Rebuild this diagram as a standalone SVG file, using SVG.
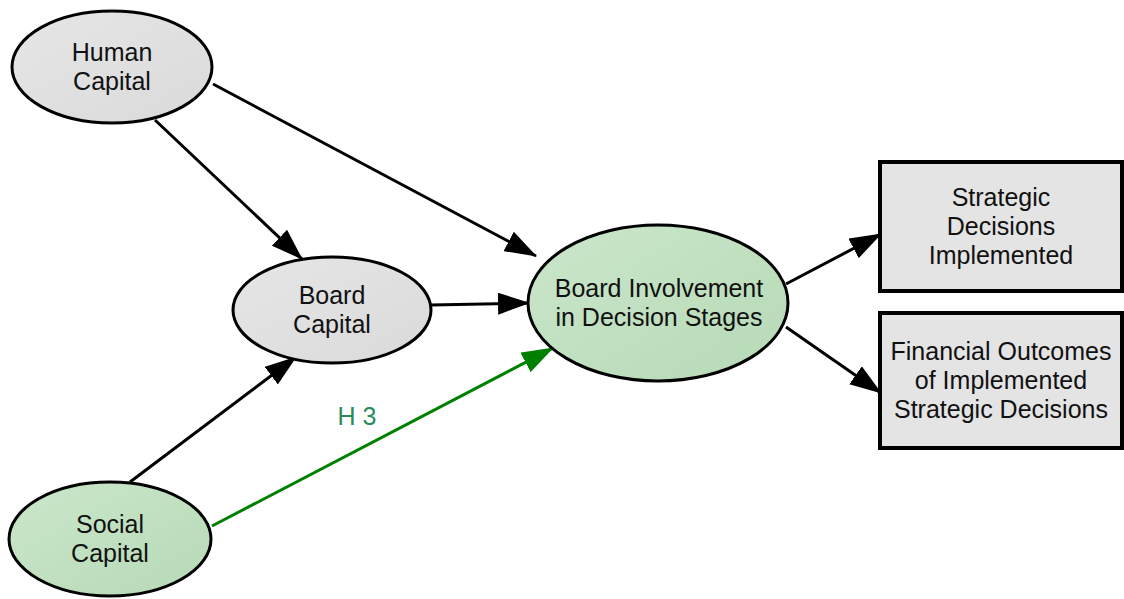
<svg xmlns="http://www.w3.org/2000/svg" width="1124" height="599" viewBox="0 0 1124 599">
<style>
.n{stroke:#000;stroke-width:3}
.gray{fill:url(#gg)}
.green{fill:url(#gn)}
.box{fill:#e4e4e4;stroke:#000;stroke-width:4}
.t{font-family:"Liberation Sans",Arial,sans-serif;font-size:25px;fill:#111;text-anchor:middle}
.e{stroke:#000;stroke-width:3;fill:none}
.eg{stroke:#008000;stroke-width:3;fill:none}
</style>
<defs>
<linearGradient id="gg" x1="0" y1="0" x2="1" y2="1"><stop offset="0" stop-color="#e6e6e6"/><stop offset="1" stop-color="#dadada"/></linearGradient>
<linearGradient id="gn" x1="0" y1="0" x2="1" y2="1"><stop offset="0" stop-color="#cbe6cb"/><stop offset="1" stop-color="#b6dab6"/></linearGradient>
<marker id="ab" viewBox="0 0 32 22" refX="31" refY="11" markerWidth="32" markerHeight="22" markerUnits="userSpaceOnUse" orient="auto"><path d="M0,0 L32,11 L0,22 Z" fill="#000"/></marker>
<marker id="ag" viewBox="0 0 32 22" refX="31" refY="11" markerWidth="32" markerHeight="22" markerUnits="userSpaceOnUse" orient="auto"><path d="M0,0 L32,11 L0,22 Z" fill="#008000"/></marker>
</defs>
<g id="connectors">
<line class="e" x1="213" y1="84" x2="536" y2="256" marker-end="url(#ab)"/>
<line class="e" x1="155" y1="120" x2="302" y2="259" marker-end="url(#ab)"/>
<line class="e" x1="431" y1="305" x2="529" y2="303" marker-end="url(#ab)"/>
<line class="e" x1="130" y1="482" x2="296" y2="357" marker-end="url(#ab)"/>
<line class="eg" x1="212" y1="526" x2="553" y2="348" marker-end="url(#ag)"/>
<line class="e" x1="786" y1="284" x2="881" y2="234" marker-end="url(#ab)"/>
<line class="e" x1="786" y1="327" x2="881" y2="393" marker-end="url(#ab)"/>
<text x="357" y="425" font-family="Liberation Sans,Arial,sans-serif" font-size="25" fill="#2a8a5a" text-anchor="middle">H 3</text>
</g>
<g id="human-capital">
<ellipse class="n gray" cx="112" cy="67" rx="100" ry="56"/>
<text class="t" x="112" y="61">Human</text>
<text class="t" x="112" y="90">Capital</text>
</g>
<g id="board-capital">
<ellipse class="n gray" cx="332" cy="310" rx="99" ry="53"/>
<text class="t" x="332" y="304">Board</text>
<text class="t" x="332" y="333">Capital</text>
</g>
<g id="board-involvement">
<ellipse class="n green" cx="658" cy="303" rx="130" ry="78"/>
<text class="t" x="659" y="297">Board Involvement</text>
<text class="t" x="659" y="326">in Decision Stages</text>
</g>
<g id="social-capital">
<ellipse class="n green" cx="110" cy="539" rx="101" ry="57"/>
<text class="t" x="110" y="533">Social</text>
<text class="t" x="110" y="562">Capital</text>
</g>
<g id="strategic-decisions">
<rect class="box" x="880" y="162" width="242" height="129"/>
<text class="t" x="1001" y="206">Strategic</text>
<text class="t" x="1001" y="235">Decisions</text>
<text class="t" x="1001" y="264">Implemented</text>
</g>
<g id="financial-outcomes">
<rect class="box" x="880" y="313" width="242" height="135"/>
<text class="t" x="1001" y="360">Financial Outcomes</text>
<text class="t" x="1001" y="389">of Implemented</text>
<text class="t" x="1001" y="418">Strategic Decisions</text>
</g>
</svg>
